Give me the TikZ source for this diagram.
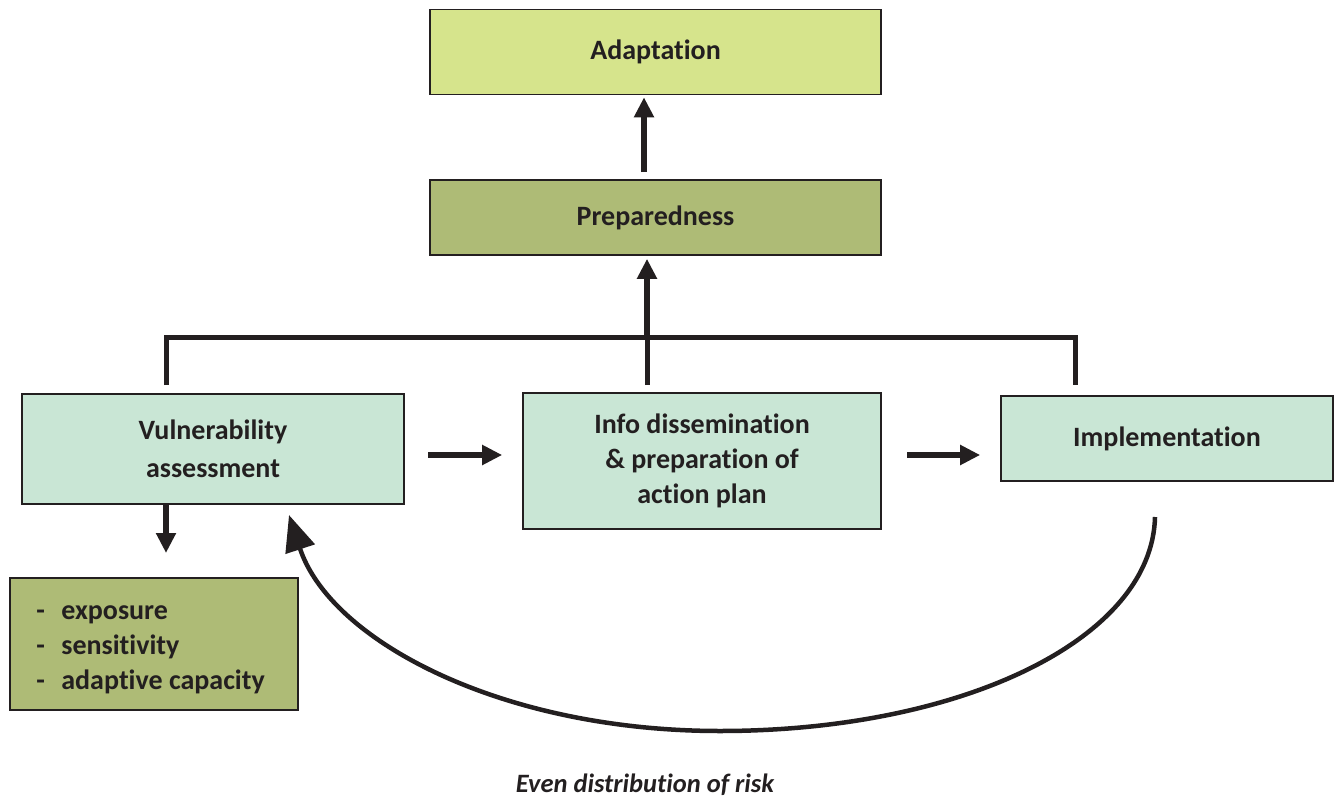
\documentclass[tikz,border=0pt]{standalone}
\usepackage{fontspec}
\setmainfont{Carlito}[Ligatures=NoCommon]
\usetikzlibrary{arrows.meta}
\definecolor{ink}{HTML}{231F20}
\definecolor{lime}{HTML}{D6E48C}
\definecolor{olive}{HTML}{AEBB76}
\definecolor{mint}{HTML}{C9E6D5}
\tikzset{
  box/.style={draw=ink, line width=1.6pt, inner sep=0pt, align=center,
    font=\fontsize{28}{36}\selectfont\bfseries, text=ink},
  bar/.style={draw=ink, line width=5pt},
  arr/.style={draw=ink, line width=6.5pt,
    -{Triangle[length=20pt,width=19pt]}},
  bigarr/.style={draw=ink, line width=4.5pt,
    -{Triangle[length=36pt,width=30pt]}}
}
\newcommand{\itemdash}{\makebox[25pt][l]{-}}
\begin{document}
\begin{tikzpicture}[x=1pt,y=-1pt]
\useasboundingbox (0,0) rectangle (1335,797);

% boxes
\node[box, fill=lime, minimum width=451pt, minimum height=85pt] (adapt) at (655.5,52) {Adaptation};
\node[box, fill=olive, minimum width=451pt, minimum height=75pt] (prep) at (655.5,217.5) {Preparedness};
\node[box, fill=mint, minimum width=382pt, minimum height=110pt,
  font=\fontsize{28}{38}\selectfont\bfseries] (vuln) at (213,449) {Vulnerability\\assessment};
\node[box, fill=mint, minimum width=358pt, minimum height=136pt,
  font=\fontsize{28}{35}\selectfont\bfseries] (info) at (702,461) {Info dissemination\\\& preparation of\\action plan};
\node[box, fill=mint, minimum width=332pt, minimum height=85pt] (impl) at (1167,438.5) {Implementation};
\node[box, fill=olive, minimum width=288pt, minimum height=132pt] (list) at (154,644) {};
\node[anchor=west, inner sep=0pt, align=left, text=ink,
  font=\fontsize{28}{35}\selectfont\bfseries] (listtext) at ([xshift=27pt,yshift=-6pt]list.west)
  {\itemdash exposure\\\itemdash sensitivity\\\itemdash adaptive capacity};

% bracket joining the three lower boxes
\coordinate (jl) at (166,385);
\coordinate (jr) at (1075,385);
\coordinate (jm) at (647,385);
\coordinate (jt) at (647,337);
\draw[bar] (jl) |- (jt) -| (jr);
\draw[bar] (jm) -- (jt);
\draw[arr] (jt) -- ([yshift=-3pt]prep.south -| jt);

% preparedness to adaptation
\coordinate (pa) at (644,172);
\draw[arr] (pa) -- ([yshift=-2pt]adapt.south -| pa);

% horizontal flow
\coordinate (h1) at (428,455);
\coordinate (h2) at (907,455);
\draw[arr] (h1) -- ([xshift=-20pt]info.west |- h1);
\draw[arr] (h2) -- ([xshift=-20pt]impl.west |- h2);

% vulnerability to its components
\coordinate (vd) at (166,505);
\draw[arr] (vd) -- (vd |- 0,553);

% feedback loop
\coordinate (fb1) at (1155,517);
\coordinate (fbm) at (720,731);
\coordinate (fb2) at (289,515);
\draw[bigarr] (fb1) .. controls (1152,640) and (960,731) .. (fbm)
  .. controls (500,731) and (330,640) .. (fb2);

\node[font=\fontsize{26.5}{30}\selectfont\bfseries\itshape, text=ink] (risk) at (645,785) {Even distribution of risk};
\end{tikzpicture}
\end{document}
